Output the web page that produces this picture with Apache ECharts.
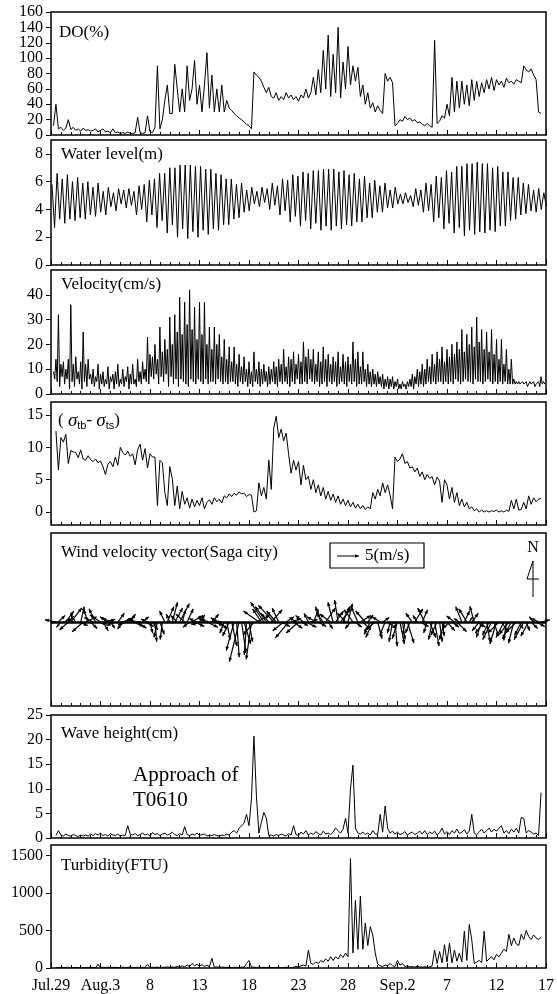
<!DOCTYPE html>
<html>
<head>
<meta charset="utf-8">
<script src="https://cdn.jsdelivr.net/npm/echarts@6/dist/echarts.min.js"></script>
<style>
  html, body { margin: 0; padding: 0; background: #fff; }
  #main { width: 557px; height: 994px; }
</style>
</head>
<body>
<div id="main"></div>
<script>
// x axis: days from Jul.29
var xTickLabels = ['Jul.29', 'Aug.3', '8', '13', '18', '23', '28', 'Sep.2', '7', '12', '17']

// DO(%), every 6 h from day 0.25
var doStart = 0.25
var doStep = 0.25
var doValues = [
  12, 40, 8, 10, 6, 9, 20, 7, 10, 6, 8, 5, 9, 6, 7, 5, 6, 8, 4, 6, 8, 4, 5, 3, 8, 3, 4, 2, 3, 2, 4, 2, 2, 3, 23, 3, 2, 3, 25, 4,
  3, 10, 90, 8, 20, 45, 65, 28, 28, 92, 60, 30, 60, 30, 90, 45, 60, 97, 40, 65, 30, 65, 107, 35, 78, 30, 60, 30, 65, 30, 45, 35, 32, 28, 25, 22, 20, 17, 14, 12,
  8, 82, 78, 75, 70, 62, 55, 62, 50, 48, 55, 45, 50, 46, 55, 48, 52, 46, 50, 44, 52, 48, 60, 48, 55, 75, 52, 85, 55, 110, 60, 130, 50, 105, 55, 140, 48, 95, 60, 115,
  65, 90, 70, 88, 50, 65, 40, 55, 35, 42, 30, 38, 32, 28, 80, 70, 75, 68, 12, 15, 20, 18, 24, 20, 22, 18, 20, 16, 17, 14, 12, 15, 12, 10, 123, 15, 18, 25, 22, 40,
  25, 75, 30, 70, 35, 70, 40, 65, 38, 72, 45, 70, 50, 68, 55, 72, 60, 75, 58, 72, 65, 70, 62, 74, 68, 70, 66, 72, 70, 68, 90, 85, 82, 86, 78, 72, 30, 28
]
var doTicksA = [0, 40, 80, 120, 160]
var doTicksB = [20, 60, 100, 140]

// water level(m): high and low waters, one tide every 0.5175 day
var tideStart = 0.1
var tideStep = 0.5175
var highWater = [
  5.8, 6.6, 6.2, 6.5, 6.0, 6.3, 5.9, 6.0, 5.6, 5.9, 5.3, 5.6, 5.2, 5.5, 5.4, 5.5, 5.3, 5.7, 5.8, 6.1,
  6.2, 6.6, 6.6, 7.0, 7.0, 7.2, 7.2, 7.2, 7.1, 7.1, 6.9, 6.9, 6.6, 6.5, 6.2, 6.2, 5.8, 5.9, 5.4, 5.6,
  5.3, 5.6, 5.5, 5.9, 5.7, 6.2, 6.1, 6.5, 6.4, 6.7, 6.6, 6.8, 6.8, 6.9, 6.9, 6.9, 6.7, 6.8, 6.5, 6.6,
  6.2, 6.4, 5.9, 6.1, 5.7, 5.9, 5.4, 5.6, 5.1, 5.2, 5.0, 5.5, 5.4, 5.9, 5.8, 6.4, 6.3, 6.8, 6.7, 7.1,
  7.1, 7.3, 7.3, 7.4, 7.3, 7.3, 7.0, 7.1, 6.7, 6.7, 6.3, 6.3, 5.9, 5.8, 5.4, 5.5, 5.2
]
var lowWater = [
  2.7, 3.3, 3.0, 3.3, 3.2, 3.4, 3.3, 3.6, 3.5, 3.8, 3.6, 4.2, 3.9, 4.4, 4.1, 4.3, 3.6, 4.0, 3.1, 3.6,
  2.7, 3.2, 2.3, 2.9, 2.0, 2.6, 1.9, 2.4, 2.0, 2.5, 2.2, 2.6, 2.5, 2.9, 2.9, 3.3, 3.4, 3.8, 3.9, 4.4,
  4.2, 4.5, 4.0, 4.3, 3.6, 3.9, 3.1, 3.5, 2.8, 3.2, 2.6, 3.0, 2.5, 2.8, 2.5, 2.8, 2.6, 2.9, 2.8, 3.1,
  3.1, 3.4, 3.4, 3.8, 3.8, 4.1, 4.1, 4.4, 4.4, 4.5, 4.2, 4.3, 3.8, 3.9, 3.1, 3.4, 2.6, 3.0, 2.3, 2.7,
  2.1, 2.5, 2.2, 2.4, 2.3, 2.5, 2.4, 2.8, 2.8, 3.2, 3.3, 3.6, 3.7, 3.9, 3.8, 4.0, 4.2
]

// velocity(cm/s), every 3 h from day 0.25
var velStart = 0.25
var velStep = 0.125
var velValues = [
  9, 6, 14, 5, 32, 3, 12, 7, 13, 4, 10, 6, 14, 2, 36, 5, 12, 3, 15, 6, 9, 4, 13, 2, 25, 5, 12, 3, 14, 6, 8, 4,
  10, 3, 7, 5, 12, 2, 8, 4, 9, 3, 6, 4, 11, 2, 7, 5, 8, 2, 9, 4, 12, 3, 6, 4, 10, 3, 7, 5, 11, 2, 8, 4,
  12, 4, 6, 3, 14, 5, 9, 4, 13, 6, 10, 5, 23, 4, 16, 7, 15, 6, 20, 8, 14, 4, 27, 7, 17, 5, 22, 8, 18, 3, 31, 7,
  20, 4, 32, 6, 25, 3, 39, 6, 24, 5, 37, 4, 28, 3, 42, 6, 26, 5, 35, 4, 22, 6, 37, 5, 24, 4, 37, 6, 20, 4, 27, 5,
  18, 5, 27, 4, 20, 6, 24, 5, 15, 4, 22, 5, 14, 4, 19, 5, 13, 5, 19, 4, 12, 3, 16, 5, 11, 4, 15, 5, 10, 3, 13, 4,
  9, 3, 17, 5, 10, 4, 13, 3, 10, 4, 12, 5, 9, 3, 11, 4, 10, 5, 13, 4, 11, 3, 14, 5, 12, 4, 18, 5, 11, 4, 15, 3,
  14, 5, 17, 4, 12, 6, 16, 4, 13, 4, 21, 5, 15, 4, 18, 6, 14, 5, 18, 4, 12, 5, 17, 3, 13, 4, 19, 5, 14, 3, 16, 5,
  12, 4, 15, 5, 13, 3, 17, 4, 11, 5, 16, 4, 13, 3, 15, 5, 12, 4, 21, 5, 14, 3, 17, 4, 11, 4, 17, 5, 10, 3, 12, 4,
  9, 3, 10, 4, 8, 3, 9, 4, 7, 3, 8, 2, 6, 3, 7, 2, 6, 3, 7, 2, 5, 3, 6, 2, 4, 2, 5, 3, 4, 2, 5, 3,
  6, 3, 8, 2, 7, 4, 10, 3, 9, 4, 12, 3, 10, 4, 14, 5, 11, 4, 16, 5, 12, 4, 17, 5, 14, 5, 19, 4, 13, 5, 18, 4,
  15, 5, 20, 4, 16, 6, 21, 5, 18, 4, 26, 5, 17, 6, 24, 5, 20, 5, 27, 4, 19, 6, 31, 5, 21, 5, 26, 4, 18, 5, 25, 6,
  17, 5, 26, 4, 16, 5, 22, 4, 14, 5, 22, 4, 12, 5, 18, 4, 10, 4, 14, 4, 6, 4, 5, 4, 5, 4, 4, 5, 4, 4, 5, 3,
  4, 5, 4, 4, 5, 3, 4, 4, 5, 3, 7, 4, 5, 4
]

// (sigma_tb - sigma_ts), every 6 h from day 0.5
var sigStart = 0.5
var sigStep = 0.25
var sigValues = [
  12.5, 6.5, 11.5, 10.8, 12, 7.5, 9.5, 9.3, 9.2, 8.4, 9.6, 8.2, 8.0, 8.7, 8.1, 7.8, 8.2, 7.6, 7.9, 7.0,
  5.8, 7.4, 7.8, 7.0, 8.5, 7.2, 10.0, 9.2, 8.8, 9.4, 8.6, 9.0, 7.3, 9.6, 10.5, 8.0, 9.8, 6.8, 9.0, 8.5,
  8.5, 1.0, 8.0, 7.6, 3.0, 1.0, 7.0, 5.2, 1.0, 4.0, 0.5, 3.2, 1.2, 2.2, 0.6, 2.0, 0.8, 1.8, 1.0, 2.2,
  0.5, 1.5, 1.9, 1.2, 2.2, 1.6, 2.0, 1.4, 2.5, 2.2, 2.8, 2.4, 2.9, 2.6, 3.1, 2.8, 2.9, 2.4, 2.7, 2.6,
  0.0, 0.2, 4.5, 2.5, 3.8, 2.0, 8.0, 3.5, 13.0, 14.8, 11.5, 12.8, 11.0, 12.2, 9.0, 6.0, 8.0, 6.5, 7.8, 4.2,
  7.2, 5.0, 5.5, 3.5, 5.0, 3.0, 4.2, 2.5, 3.8, 2.0, 3.2, 1.8, 2.8, 1.5, 2.5, 1.2, 2.0, 1.0, 1.8, 0.8,
  1.5, 0.6, 1.2, 0.5, 1.0, 0.4, 0.8, 0.5, 3.0, 2.0, 3.5, 2.5, 4.5, 3.0, 4.2, 2.6, 0.5, 8.5, 7.8, 8.2,
  9.0, 7.5, 7.8, 6.8, 7.0, 6.2, 6.8, 5.5, 6.2, 5.0, 5.8, 5.2, 5.5, 4.2, 5.4, 4.8, 1.5, 5.0, 4.2, 2.0,
  3.8, 1.5, 3.0, 1.0, 2.0, 0.8, 1.5, 0.5, 0.8, 0.2, 0.5, 0.0, 0.3, 0.0, 0.2, 0.0, 0.2, 0.1, 0.3, 0.0,
  0.2, 0.0, 0.3, 0.1, 1.8, 0.5, 2.0, 0.3, 0.4, 1.5, 0.5, 2.5, 1.2, 2.2, 1.6, 2.0, 2.1
]

// wind velocity vector (m/s), east and north parts, every 6 h from day 0.5
var windStart = 0.5
var windStep = 0.25
var windU = [
  -2.5, 1.5, -1, 2.2, 1.8, -2, 2.5, -1.5, -1.2, 2.2, 0.8, -2.5, 2.5, -1, 1.5, -2, -1.5, 2, -2.4, 1.2,
  2.2, -1.8, 1.0, -2.5, -2, 1.5, 2.4, -1.2, 1.8, -2.2, 1.2, 2.5, -1.6, 2.0, -2.5, 1.4, 2.0, -1.5, 0.6, 1.2,
  0.4, -0.8, 1.0, -0.5, -1.2, 1.5, -0.8, 1.2, 1.8, -1.5, 2.2, 0.8, -2.0, 1.4, -1.5, 2.5, 2.2, -1.8, 1.2, -2.4,
  -1.5, 2.5, -2.0, 1.6, 2.0, -1.4, 1.8, -2.2, -1.0, 0.8, -1.5, 1.2, -1.8, 0.6, -2.2, 1.0, 1.5, -0.5, 0.8, -1.2,
  -2.5, 3.0, -3.5, -2.0, -3.0, -2.5, -1.8, 2.5, -3.5, -2.2, -1.5, 2.0, -2.5, 1.8, -3.0, 2.2, 2.0, -1.5, -2.8, 1.6,
  -1.8, 2.4, -1.0, 1.5, 1.2, -2.0, 1.8, -1.2, -1.5, 2.2, 1.0, -2.5, -1.2, 1.8, -0.8, 2.2, 1.5, -1.8, 1.0, -1.2,
  -2.0, 1.4, -1.6, 2.4, 1.8, -2.2, 1.2, -1.4, -1.6, -2.5, 1.0, -1.8, 1.5, -1.2, 2.0, -0.6, -0.8, 0.5, -1.2, 1.0,
  0.6, -0.5, 1.5, -1.0, -1.5, 1.8, -1.0, 2.0, 1.2, -1.6, -0.8, 1.4, -0.8, 1.0, -1.4, 0.6, 0.5, -1.2, 1.8, -1.5,
  1.6, -1.8, 2.2, -1.2, -1.4, 1.2, -1.8, 0.8, 1.5, -1.0, 2.0, -1.6, -1.2, -2.0, 0.8, -1.5, -2.0, 1.0, -1.5, -2.5,
  1.5, -1.8, -0.6, -2.2, -2.0, -1.2, -2.5, 1.0, -1.5, -2.2, 0.8, -1.8, 1.5, -1.0, 2.0, -1.5, 2.0
]
var windV = [
  0.5, 1.5, -1.2, 0.8, 2.5, -1.8, 3.2, 0.6, 1.8, -0.8, 3.5, -2.2, 1.2, 2.8, -1.5, 1.0, 3.0, -0.5, 1.6, -2.0,
  0.6, 1.2, -1.4, 0.8, -0.8, 2.0, 0.5, -1.6, 1.0, -0.6, 1.8, -1.0, 0.8, -1.4, 0.4, 1.2, -1.0, 0.7, -2.5, -1.8,
  -4.5, -3.5, -2.8, -4.0, 2.5, 3.5, 1.8, 4.5, 3.2, 1.5, 4.2, 2.8, 1.8, 3.0, -1.2, 1.5, -1.0, 0.8, 1.6, -0.6,
  1.2, -1.2, 0.6, 1.8, -0.8, 1.0, -1.6, 0.5, -2.5, -4.0, -3.2, -5.5, -6.5, -8.0, -9.0, -7.0, -5.0, -7.5, -4.5, -8.5,
  -3.0, 1.5, 2.5, 3.0, 4.5, 3.5, 2.0, 2.8, 3.8, 2.5, 3.2, -1.0, -2.0, 1.2, -3.6, 0.8, -1.4, 1.0, -2.5, -0.8,
  1.5, -1.2, 2.0, 0.6, 2.8, 1.2, -1.0, 3.5, 2.0, 3.2, -1.5, 1.8, 4.5, 2.5, 5.0, 3.0, 3.5, 2.0, 4.2, -1.5,
  2.8, -1.2, 3.5, 1.5, -1.8, 2.5, 1.6, -2.8, -3.5, -2.0, -3.8, 1.2, 1.0, -3.0, -1.5, -2.5, -4.5, -5.5, -3.8, -5.0,
  -4.0, -3.0, -4.8, -2.5, 2.0, 3.0, 1.5, -1.0, 2.8, 3.2, -2.5, -3.5, -4.0, -5.5, -3.0, -4.5, -3.2, -4.0, -2.0, -1.5,
  -1.2, 1.4, -2.2, 0.8, 3.5, 2.5, 3.0, 1.2, 2.0, 3.6, -1.2, -2.0, -3.5, -2.5, -4.5, -3.0, -4.0, -3.2, -5.0, -2.5,
  -2.2, -3.5, -4.2, -2.8, -3.8, -4.8, -2.5, -1.5, -3.0, -4.0, -2.0, -3.2, -1.5, 1.2, -1.0, 0.8, 0.5
]

// wave height(cm), every 6 h from day 0.5
var waveStart = 0.5
var waveStep = 0.25
var waveValues = [
  0.5, 1.5, 0.6, 0.4, 0.8, 0.5, 0.4, 0.7, 0.5, 0.3, 0.6, 0.4, 0.6, 0.4, 0.8, 0.5, 0.9, 0.6, 1.0, 0.5,
  0.7, 0.4, 0.9, 0.6, 0.5, 0.8, 0.4, 0.6, 0.5, 2.5, 0.8, 0.6, 0.9, 0.5, 0.7, 1.0, 0.6, 0.8, 0.4, 1.1,
  0.7, 0.9, 0.5, 0.8, 1.0, 0.6, 0.8, 1.2, 0.7, 0.5, 0.9, 0.6, 2.3, 0.7, 0.5, 0.8, 0.6, 1.0, 0.5, 0.7,
  0.8, 0.4, 0.6, 0.5, 0.7, 0.5, 0.4, 0.6, 0.5, 0.8, 0.6, 1.2, 1.5, 1.0, 2.0, 2.5, 3.0, 4.8, 2.5, 8.0,
  20.7, 8.5, 1.0, 3.2, 5.2, 4.0, 0.5, 0.6, 0.4, 0.7, 0.5, 0.8, 0.6, 0.4, 0.9, 0.6, 2.5, 0.7, 0.5, 1.2,
  0.8, 1.5, 0.6, 1.0, 0.7, 1.3, 0.9, 0.6, 1.4, 0.8, 1.0, 0.7, 1.2, 2.0, 1.5, 1.0, 1.8, 4.0, 1.0, 10.0,
  14.8, 2.0, 1.0, 0.8, 1.2, 0.7, 1.0, 0.6, 1.5, 0.8, 0.7, 4.8, 1.2, 6.5, 2.0, 1.0, 1.4, 0.8, 1.2, 0.7,
  0.9, 1.3, 0.6, 1.0, 1.2, 0.7, 1.0, 1.4, 0.8, 1.5, 0.7, 1.2, 0.9, 1.4, 0.6, 1.1, 2.0, 0.8, 1.3, 0.7,
  1.5, 1.0, 1.8, 0.9, 1.2, 1.7, 0.8, 1.4, 4.8, 1.0, 0.7, 1.2, 1.8, 1.0, 1.5, 2.0, 1.2, 1.8, 1.4, 2.0,
  2.5, 1.0, 1.5, 0.9, 1.8, 1.2, 2.0, 1.0, 4.2, 4.0, 1.0, 1.5, 1.2, 0.8, 1.0, 0.5, 9.2
]

// turbidity(FTU), every 6 h from day 0.5
var turbStart = 0.5
var turbStep = 0.25
var turbValues = [
  5, 3, 8, 4, 6, 10, 4, 5, 8, 5, 3, 6, 5, 4, 12, 6, 5, 50, 8, 10,
  6, 12, 5, 8, 10, 6, 5, 12, 6, 8, 15, 5, 7, 10, 6, 9, 8, 50, 6, 10,
  8, 12, 5, 10, 9, 15, 8, 12, 10, 20, 8, 30, 15, 40, 20, 60, 30, 50, 25, 45,
  20, 40, 15, 130, 10, 15, 8, 12, 10, 8, 12, 6, 8, 10, 6, 12, 10, 60, 100, 15,
  10, 8, 12, 6, 8, 5, 10, 6, 5, 8, 6, 4, 6, 10, 8, 5, 10, 20, 15, 30,
  40, 25, 240, 60, 50, 80, 60, 100, 80, 120, 90, 150, 100, 150, 120, 180, 140, 200, 150, 1460,
  200, 900, 250, 960, 250, 600, 300, 550, 440, 200, 50, 30, 20, 40, 30, 60, 30, 20, 100, 40,
  60, 20, 30, 15, 20, 10, 25, 15, 10, 20, 8, 15, 30, 240, 60, 220, 70, 310, 80, 330,
  70, 240, 90, 200, 80, 490, 100, 580, 375, 60, 80, 100, 70, 490, 90, 120, 150, 110, 180, 150,
  200, 250, 220, 450, 300, 400, 320, 300, 450, 380, 500, 420, 380, 440, 400, 380, 410
]

function series(start, step, values) {
  return values.map(function (v, i) { return [start + i * step, v] })
}

var tideData = []
for (var i = 0; i < highWater.length; i++) {
  tideData.push([tideStart + i * tideStep, highWater[i]])
  if (i < lowWater.length) tideData.push([tideStart + i * tideStep + tideStep / 2, lowWater[i]])
}

var windData = windU.map(function (u, i) { return [windStart + i * windStep, u, windV[i]] })

// panel boxes, px
var panels = [
  { top: 12, height: 123 },
  { top: 140, height: 125 },
  { top: 270, height: 124 },
  { top: 402, height: 123 },
  { top: 533, height: 173 },
  { top: 715, height: 123 },
  { top: 845, height: 123 }
]
var serif = '"Liberation Serif", "Times New Roman", serif'
var arrowScale = 4.4 // px per m/s

var grids = panels.map(function (p) {
  return { left: 51, right: 11, top: p.top, height: p.height, show: true, borderColor: '#000', borderWidth: 1.5, backgroundColor: 'transparent' }
})

var xAxes = panels.map(function (p, k) {
  return {
    type: 'value', gridIndex: k, min: 0, max: 50, interval: 5,
    axisLine: { show: false, onZero: false },
    axisTick: { show: true, inside: true, length: 5, lineStyle: { color: '#000', width: 1 } },
    minorTick: { show: true, splitNumber: 5, length: 3, lineStyle: { color: '#000', width: 1 } },
    splitLine: { show: false },
    minorSplitLine: { show: false },
    axisLabel: {
      show: k === panels.length - 1, margin: 10, color: '#000', fontFamily: serif, fontSize: 16,
      formatter: function (v) { return xTickLabels[Math.round(v / 5)] }
    }
  }
})

function yAxis(k, min, max, ticks) {
  return {
    type: 'value', gridIndex: k, min: min, max: max, position: 'left',
    axisLine: { show: false, onZero: false },
    splitLine: { show: false },
    axisTick: { show: !!ticks, length: 5, customValues: ticks || [], lineStyle: { color: '#000', width: 1 } },
    axisLabel: {
      show: !!ticks, margin: 8, customValues: ticks || [], color: '#000', fontFamily: serif, fontSize: 16,
      hideOverlap: false, showMinLabel: true, showMaxLabel: true,
      formatter: function (v) { return String(v) }
    }
  }
}

// DO labels are packed tight, so they are split over two overlaid axes
var yAxes = [
  yAxis(0, 0, 160, doTicksA),
  yAxis(1, 0, 9, [0, 2, 4, 6, 8]),
  yAxis(2, 0, 50, [0, 10, 20, 30, 40]),
  yAxis(3, -2, 17, [0, 5, 10, 15]),
  yAxis(4, -10, 10.6, null),
  yAxis(5, 0, 25, [0, 5, 10, 15, 20, 25]),
  yAxis(6, 0, 1640, [0, 500, 1000, 1500]),
  yAxis(0, 0, 160, doTicksB)
]

function lineSeries(k, data) {
  return {
    type: 'line', xAxisIndex: k, yAxisIndex: k, data: data,
    showSymbol: false, symbol: 'none', lineStyle: { color: '#000', width: 1 }
  }
}

function arrowHead(ex, ey, ux, uy, h, w) {
  return [[ex, ey], [ex - ux * h - uy * w, ey - uy * h + ux * w], [ex - ux * h + uy * w, ey - uy * h - ux * w]]
}

var windSeries = {
  type: 'custom', xAxisIndex: 4, yAxisIndex: 4, data: windData,
  encode: { x: 0, y: 2 }, clip: false,
  renderItem: function (params, api) {
    var p = api.coord([api.value(0), 0])
    var ex = p[0] + api.value(1) * arrowScale
    var ey = p[1] - api.value(2) * arrowScale
    var len = Math.hypot(ex - p[0], ey - p[1])
    if (len < 0.5) return
    var ux = (ex - p[0]) / len
    var uy = (ey - p[1]) / len
    var h = Math.min(4, len * 0.45)
    return {
      type: 'group',
      children: [
        { type: 'line', shape: { x1: p[0], y1: p[1], x2: ex, y2: ey }, style: { stroke: '#000', lineWidth: 1.2 } },
        { type: 'polygon', shape: { points: arrowHead(ex, ey, ux, uy, h, h * 0.45) }, style: { fill: '#000' } }
      ]
    }
  },
  markLine: {
    silent: true, symbol: 'none', label: { show: false },
    lineStyle: { color: '#000', width: 2.5, type: 'solid' },
    data: [{ yAxis: 0 }]
  }
}

function label(x, y, text, size) {
  return { type: 'text', x: x, y: y, style: { text: text, font: (size || 17) + 'px ' + serif, fill: '#000', verticalAlign: 'middle' } }
}

var legendX = 337
var legendY = 556
var legendLen = 5 * arrowScale

var graphics = [
  label(59, 33, 'DO(%)'),
  label(61, 155, 'Water level(m)'),
  label(61, 285, 'Velocity(cm/s)'),
  {
    type: 'text', x: 58, y: 421,
    style: {
      text: '{a|( }{s|σ}{b|tb}{a|- }{s|σ}{b|ts}{a|)}',
      verticalAlign: 'middle',
      rich: {
        a: { font: '17px ' + serif, fill: '#000', lineHeight: 20 },
        s: { font: 'italic 19px ' + serif, fill: '#000', lineHeight: 20 },
        b: { font: '11px "Liberation Sans", Arial, sans-serif', fill: '#000', lineHeight: 20, verticalAlign: 'bottom', padding: [10, 0, 0, 0] }
      }
    }
  },
  label(61, 553, 'Wind velocity vector(Saga city)'),
  { type: 'rect', shape: { x: 330, y: 543, width: 94, height: 25 }, style: { fill: 'none', stroke: '#000', lineWidth: 1.2 } },
  { type: 'line', shape: { x1: legendX, y1: legendY, x2: legendX + legendLen, y2: legendY }, style: { stroke: '#000', lineWidth: 1 } },
  { type: 'polygon', shape: { points: arrowHead(legendX + legendLen, legendY, 1, 0, 4, 1.8) }, style: { fill: '#000' } },
  label(365, 556, '5(m/s)'),
  { type: 'text', x: 533, y: 548, style: { text: 'N', font: '16px ' + serif, fill: '#000', align: 'center', verticalAlign: 'middle' } },
  { type: 'polyline', shape: { points: [[533, 597], [533, 561], [527, 579], [539, 579]] }, style: { stroke: '#000', lineWidth: 1, fill: 'none' } },
  label(61, 734, 'Wave height(cm)'),
  label(133, 775, 'Approach of', 21),
  label(133, 800, 'T0610', 21),
  label(61, 866, 'Turbidity(FTU)')
]

var chart = echarts.init(document.getElementById('main'), null, { renderer: 'canvas' })
chart.setOption({
  animation: false,
  backgroundColor: '#fff',
  grid: grids,
  xAxis: xAxes,
  yAxis: yAxes,
  graphic: graphics,
  series: [
    lineSeries(0, series(doStart, doStep, doValues)),
    lineSeries(1, tideData),
    lineSeries(2, series(velStart, velStep, velValues)),
    lineSeries(3, series(sigStart, sigStep, sigValues)),
    windSeries,
    lineSeries(5, series(waveStart, waveStep, waveValues)),
    lineSeries(6, series(turbStart, turbStep, turbValues))
  ]
})
</script>
</body>
</html>
